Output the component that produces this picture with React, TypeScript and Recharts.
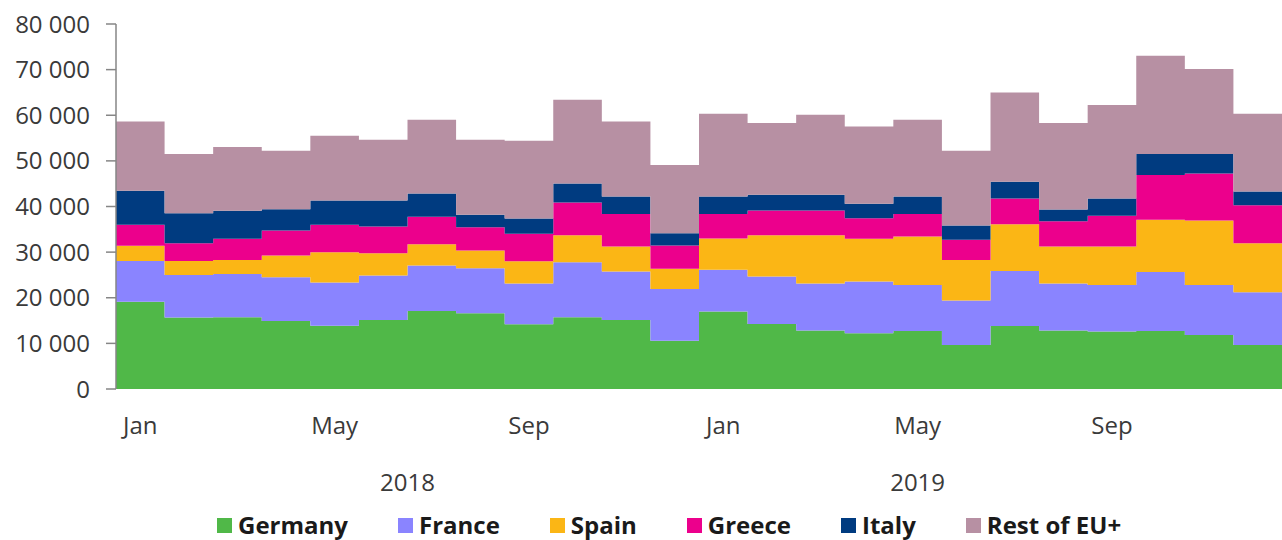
import React from "react";
import { AreaChart, Area, XAxis, YAxis, Legend } from "recharts";

const months = ["Jan", "Feb", "Mar", "Apr", "May", "Jun", "Jul", "Aug", "Sep", "Oct", "Nov", "Dec",
  "Jan", "Feb", "Mar", "Apr", "May", "Jun", "Jul", "Aug", "Sep", "Oct", "Nov", "Dec"];

const germany = [19100, 15650, 15700, 14920, 13890, 15140, 17110, 16600, 14190, 15730, 15140, 10600,
  16960, 14260, 12800, 12220, 12730, 9650, 13820, 12800, 12580, 12730, 11850, 9650];
const france = [8980, 9360, 9530, 9580, 9430, 9720, 9950, 9880, 8910, 12070, 10600, 11340,
  9150, 10380, 10300, 11320, 10090, 9720, 12070, 10300, 10240, 12940, 10970, 11570];
const spain = [3290, 3070, 3070, 4750, 6670, 4910, 4680, 3860, 4910, 5920, 5480, 4390,
  6870, 9080, 10620, 9370, 10590, 8930, 10240, 8120, 8400, 11410, 14110, 10740];
const greece = [4610, 3880, 4610, 5480, 5990, 5840, 6000, 5120, 6000, 7160, 7110, 5110,
  5350, 5400, 5400, 4540, 4920, 4390, 5620, 5570, 6740, 9810, 10310, 8340];
const italy = [7460, 6580, 6140, 4690, 5330, 5700, 5110, 2720, 3360, 4160, 3860, 2720,
  3860, 3440, 3440, 3140, 3860, 3140, 3670, 2550, 3790, 4600, 4250, 2990];
const restOfEU = [15210, 12950, 13970, 12800, 14200, 13320, 16170, 16450, 17040, 18370, 16460, 14920,
  18150, 15730, 17560, 16960, 16830, 16390, 19590, 18950, 20500, 21570, 18650, 17050];

const monthTicks = [0.5, 4.5, 8.5, 12.5, 16.5, 20.5];
const yearTicks = [6, 16.5];
const yearLabels = ["2018", "2019"];
const yTicks = [0, 10000, 20000, 30000, 40000, 50000, 60000, 70000, 80000];

const series = [
  { key: "Germany", name: "Germany", values: germany, color: "#50B848" },
  { key: "France", name: "France", values: france, color: "#8A84FF" },
  { key: "Spain", name: "Spain", values: spain, color: "#FBB615" },
  { key: "Greece", name: "Greece", values: greece, color: "#EC008C" },
  { key: "Italy", name: "Italy", values: italy, color: "#003B80" },
  { key: "Rest", name: "Rest of EU+", values: restOfEU, color: "#B790A3" },
];

const buildRow = (x: number, i: number) => {
  const row: Record<string, number> = { x };
  series.forEach((s) => {
    row[s.key] = s.values[i];
  });
  return row;
};

const data = [
  ...months.map((_, i) => buildRow(i, i)),
  buildRow(months.length, months.length - 1),
];

const fmt = (v: number) => {
  if (v === 0) return "0";
  const th = Math.floor(v / 1000);
  const rest = String(v % 1000).padStart(3, "0");
  return `${th} ${rest}`;
};

const LegendContent = () => (
  <div
    style={{
      display: "flex",
      alignItems: "center",
      height: 30,
      paddingLeft: 217,
      fontFamily: "'Open Sans', sans-serif",
      fontWeight: 700,
      fontSize: 24,
      color: "#1a1a1a",
      lineHeight: "30px",
    }}
  >
    {series.map((s) => (
      <div key={s.key} style={{ display: "flex", alignItems: "center", marginRight: 50 }}>
        <div style={{ width: 15, height: 15, background: s.color, marginRight: 6 }} />
        <span>{s.name}</span>
      </div>
    ))}
  </div>
);

export default function App() {
  return (
    <div style={{ position: "absolute", left: 0, top: 0, width: 1282, height: 540, background: "#fff" }}>
      <AreaChart
        width={1282}
        height={540}
        data={data}
        margin={{ top: 24, right: 0, bottom: 0, left: 0 }}
        style={{ fontFamily: "'Open Sans', sans-serif" }}
      >
        <XAxis
          dataKey="x"
          type="number"
          domain={[0, 24]}
          ticks={monthTicks}
          tickFormatter={(v: number) => months[Math.floor(v)]}
          axisLine={false}
          tickLine={false}
          tickSize={0}
          tickMargin={28}
          height={60}
          interval={0}
          tick={{ fill: "#3a3a3a", fontSize: 24 }}
        />
        <XAxis
          xAxisId="year"
          dataKey="x"
          type="number"
          domain={[0, 24]}
          allowDataOverflow
          ticks={yearTicks}
          tickFormatter={(v: number) => yearLabels[v < 12 ? 0 : 1]}
          axisLine={false}
          tickLine={false}
          tickSize={0}
          tickMargin={25}
          height={61}
          interval={0}
          tick={{ fill: "#3a3a3a", fontSize: 24 }}
        />
        <YAxis
          type="number"
          domain={[0, 80000]}
          ticks={yTicks}
          tickFormatter={fmt}
          width={116}
          interval={0}
          axisLine={{ stroke: "#868686", strokeWidth: 1.5 }}
          tickLine={{ stroke: "#868686", strokeWidth: 1.5 }}
          tickSize={10}
          tickMargin={16}
          tick={{ fill: "#3a3a3a", fontSize: 24 }}
        />
        <Legend verticalAlign="bottom" align="left" height={30} content={<LegendContent />} />
        {series.map((s) => (
          <Area
            key={s.key}
            dataKey={s.key}
            name={s.name}
            stackId="1"
            type="stepAfter"
            fill={s.color}
            fillOpacity={1}
            stroke="none"
            isAnimationActive={false}
          />
        ))}
      </AreaChart>
    </div>
  );
}
